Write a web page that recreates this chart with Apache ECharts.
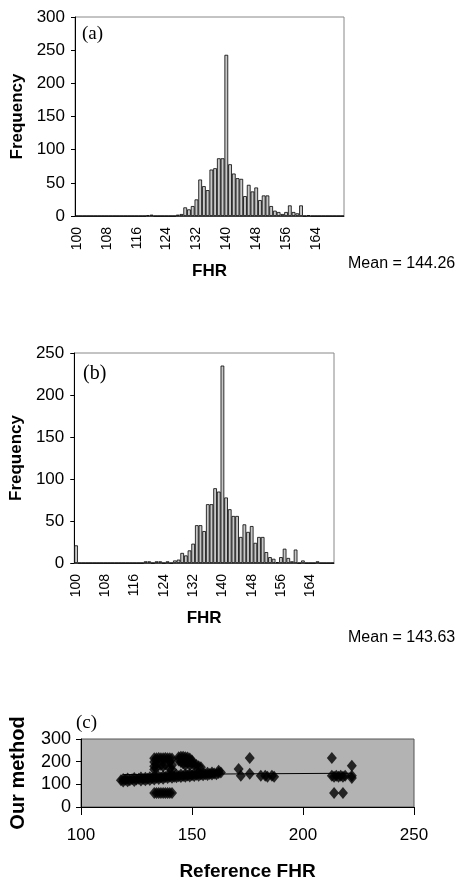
<!DOCTYPE html>
<html>
<head>
<meta charset="utf-8">
<script src="https://cdn.jsdelivr.net/npm/echarts@6/dist/echarts.min.js"></script>
<style>
html,body{margin:0;padding:0;background:#fff;}
#chart{width:461px;height:884px;}
</style>
</head>
<body>
<div id="chart"></div>
<script>
// ---- Data ----
const catsA = [100,101,102,103,104,105,106,107,108,109,110,111,112,113,114,115,116,117,118,119,120,121,122,123,124,125,126,127,128,129,130,131,132,133,134,135,136,137,138,139,140,141,142,143,144,145,146,147,148,149,150,151,152,153,154,155,156,157,158,159,160,161,162,163,164,165,166,167,168,169,170,171];
const freqA = [0,0,0,0,0,0,0,0,0,0, 0,0,0,0,0,0,0,0,0,1, 2,0,0,0,0,0,0,2,3,13, 10,15,25,55,45,39,70,72,87,87, 243,78,64,57,56,30,47,37,43,24, 31,31,15,8,6,3,6,16,6,4, 16,0,1,0,0,0,0,0,0,0, 0,0];

const catsB = [100,101,102,103,104,105,106,107,108,109,110,111,112,113,114,115,116,117,118,119,120,121,122,123,124,125,126,127,128,129,130,131,132,133,134,135,136,137,138,139,140,141,142,143,144,145,146,147,148,149,150,151,152,153,154,155,156,157,158,159,160,161,162,163,164,165,166,167,168,169,170];
const freqB = [21,0,0,0,0,0,0,0,0,0, 0,0,0,0,0,0,0,0,0,2, 2,0,2,2,0,2,0,3,4,12, 9,15,23,45,45,38,70,70,89,85, 235,78,64,56,56,31,46,37,44,24, 31,31,13,7,5,1,7,17,6,2, 16,0,3,0,0,0,2,0,0,0, 0];

const meanA = "Mean = 144.26";
const meanB = "Mean = 143.63";

// scatter (c): [Reference FHR, Our method]
const bandPoints = [[118,118],[119,112],[119,124],[120,120],[121,114],[121,126],[122,118],[123,122],[124,115],[124,128],[125,121],[126,125],[127,117],[127,130],[128,124],[129,129],[129,118],[130,125],[131,131],[131,119],[132,127],[133,133],[133,121],[134,129],[135,134],[135,123],[136,130],[137,136],[137,125],[138,132],[139,128],[139,138],[140,133],[141,129],[141,140],[142,134],[143,131],[143,142],[144,136],[145,132],[145,143],[146,137],[147,133],[147,144],[148,139],[149,135],[149,146],[150,140],[151,137],[151,148],[152,142],[153,138],[153,149],[154,143],[155,140],[155,150],[156,145],[157,141],[157,151],[158,146],[159,143],[159,152],[160,148],[161,145],[162,150],[162,160],[163,152]];
const upperPoints = [[133,215],[134,215],[135,216],[136,215],[137,215],[138,216],[139,215],[140,215],[141,214],[133,198],[133,180],[133,165],[134,190],[134,172],[140,200],[141,185],[140,170],[141,165],[136,185],[137,180],[138,188],[144,220],[145,222],[146,222],[147,220],[148,218],[149,214],[144,205],[145,198],[146,192],[147,200],[148,195],[149,200],[150,192],[151,188],[152,185],[153,180],[154,175],[150,205],[147,185],[149,185]];
const lowerPoints = [[133,62],[134,62],[135,62],[136,62],[137,62],[138,62],[139,62],[140,62],[141,62]];
const outlierPoints = [[171,168],[172,138],[176,216],[176,147],[181,138],[183,138],[184,133],[186,138],[187,133],[213,216],[213,138],[214,133],[215,138],[216,133],[217,138],[218,133],[219,138],[214,62],[218,62],[222,182],[222,128],[222,138]];
const trendLine = [[119,143],[222,149]];

const yTicksAB = {a:[0,300,50], b:[0,250,50]};
const xTicksC = [100,250,50];
const yTicksC = [0,300,100];

// ---- Chart ----
const SANS = '"Liberation Sans", Arial, sans-serif';
const SERIF = '"Liberation Serif", "Times New Roman", serif';
const chart = echarts.init(document.getElementById('chart'), null, {renderer:'canvas'});

function histX(gridIndex, cats){
  return {
    type:'category', gridIndex, data:cats,
    axisLine:{lineStyle:{color:'#444', width:1}},
    axisTick:{show:false},
    axisLabel:{interval:7, rotate:90, margin:11, fontFamily:SANS, fontSize:14, color:'#000'},
    name:'FHR', nameLocation:'middle', nameGap:47,
    nameTextStyle:{fontFamily:SANS, fontSize:17, fontWeight:'bold', color:'#000'}
  };
}
function histY(gridIndex, t){
  return {
    type:'value', gridIndex, min:t[0], max:t[1], interval:t[2],
    axisLine:{show:true, lineStyle:{color:'#000', width:1}},
    axisTick:{show:true, length:4, lineStyle:{color:'#000'}},
    splitLine:{show:false},
    axisLabel:{margin:10, fontFamily:SANS, fontSize:17, color:'#000'},
    name:'Frequency', nameLocation:'middle', nameGap:49,
    nameTextStyle:{fontFamily:SANS, fontSize:17, fontWeight:'bold', color:'#000'}
  };
}
const barStyle = {color:'#c8c8c8', borderColor:'#000', borderWidth:0.8};

const option = {
  animation:false,
  backgroundColor:'#fff',
  title:[
    {text:'(a)', left:82, top:25, padding:0, textStyle:{fontFamily:SERIF, fontSize:19, fontWeight:'normal', color:'#000'}},
    {text:'(b)', left:83, top:364, padding:0, textStyle:{fontFamily:SERIF, fontSize:20, fontWeight:'normal', color:'#000'}},
    {text:'(c)', left:76, top:714, padding:0, textStyle:{fontFamily:SERIF, fontSize:19, fontWeight:'normal', color:'#000'}},
    {text:meanA, left:348, top:256, padding:0, textStyle:{fontFamily:SANS, fontSize:16, fontWeight:'normal', color:'#000'}},
    {text:meanB, left:348, top:630, padding:0, textStyle:{fontFamily:SANS, fontSize:16, fontWeight:'normal', color:'#000'}}
  ],
  grid:[
    {left:75, top:17, width:269, height:199, show:true, borderColor:'#888', borderWidth:1, backgroundColor:'transparent'},
    {left:74, top:353, width:260, height:210, show:true, borderColor:'#888', borderWidth:1, backgroundColor:'transparent'},
    {left:74, top:739, width:340, height:68, show:true, borderColor:'#555', borderWidth:1, backgroundColor:'#b3b3b3'}
  ],
  xAxis:[
    histX(0, catsA),
    histX(1, catsB),
    {type:'value', gridIndex:2, min:xTicksC[0], max:xTicksC[1], interval:xTicksC[2],
     axisLine:{show:true, onZero:false, lineStyle:{color:'#000'}},
     axisTick:{show:true, length:8, lineStyle:{color:'#000'}},
     splitLine:{show:false},
     axisLabel:{margin:20, fontFamily:SANS, fontSize:17, color:'#000'},
     name:'Reference FHR', nameLocation:'middle', nameGap:55,
     nameTextStyle:{fontFamily:SANS, fontSize:19, fontWeight:'bold', color:'#000'}}
  ],
  yAxis:[
    histY(0, yTicksAB.a),
    histY(1, yTicksAB.b),
    {type:'value', gridIndex:2, min:yTicksC[0], max:yTicksC[1], interval:yTicksC[2],
     axisLine:{show:true, lineStyle:{color:'#000'}},
     axisTick:{show:true, length:5, lineStyle:{color:'#000'}},
     splitLine:{show:false},
     axisLabel:{margin:10, fontFamily:SANS, fontSize:18, color:'#000'},
     name:'Our method', nameLocation:'middle', nameGap:53,
     nameTextStyle:{fontFamily:SANS, fontSize:20, fontWeight:'bold', color:'#000'}}
  ],
  series:[
    {type:'bar', xAxisIndex:0, yAxisIndex:0, data:freqA, barCategoryGap:'0%', itemStyle:barStyle},
    {type:'bar', xAxisIndex:1, yAxisIndex:1, data:freqB, barCategoryGap:'0%', itemStyle:barStyle},
    {type:'line', xAxisIndex:2, yAxisIndex:2, data:trendLine, symbol:'none', lineStyle:{color:'#000', width:1}, z:1},
    {type:'scatter', xAxisIndex:2, yAxisIndex:2, data:bandPoints.concat(upperPoints, lowerPoints, outlierPoints),
     symbol:'diamond', symbolSize:[10,12], itemStyle:{color:'#000'}, z:2}
  ]
};
chart.setOption(option);
</script>
</body>
</html>
